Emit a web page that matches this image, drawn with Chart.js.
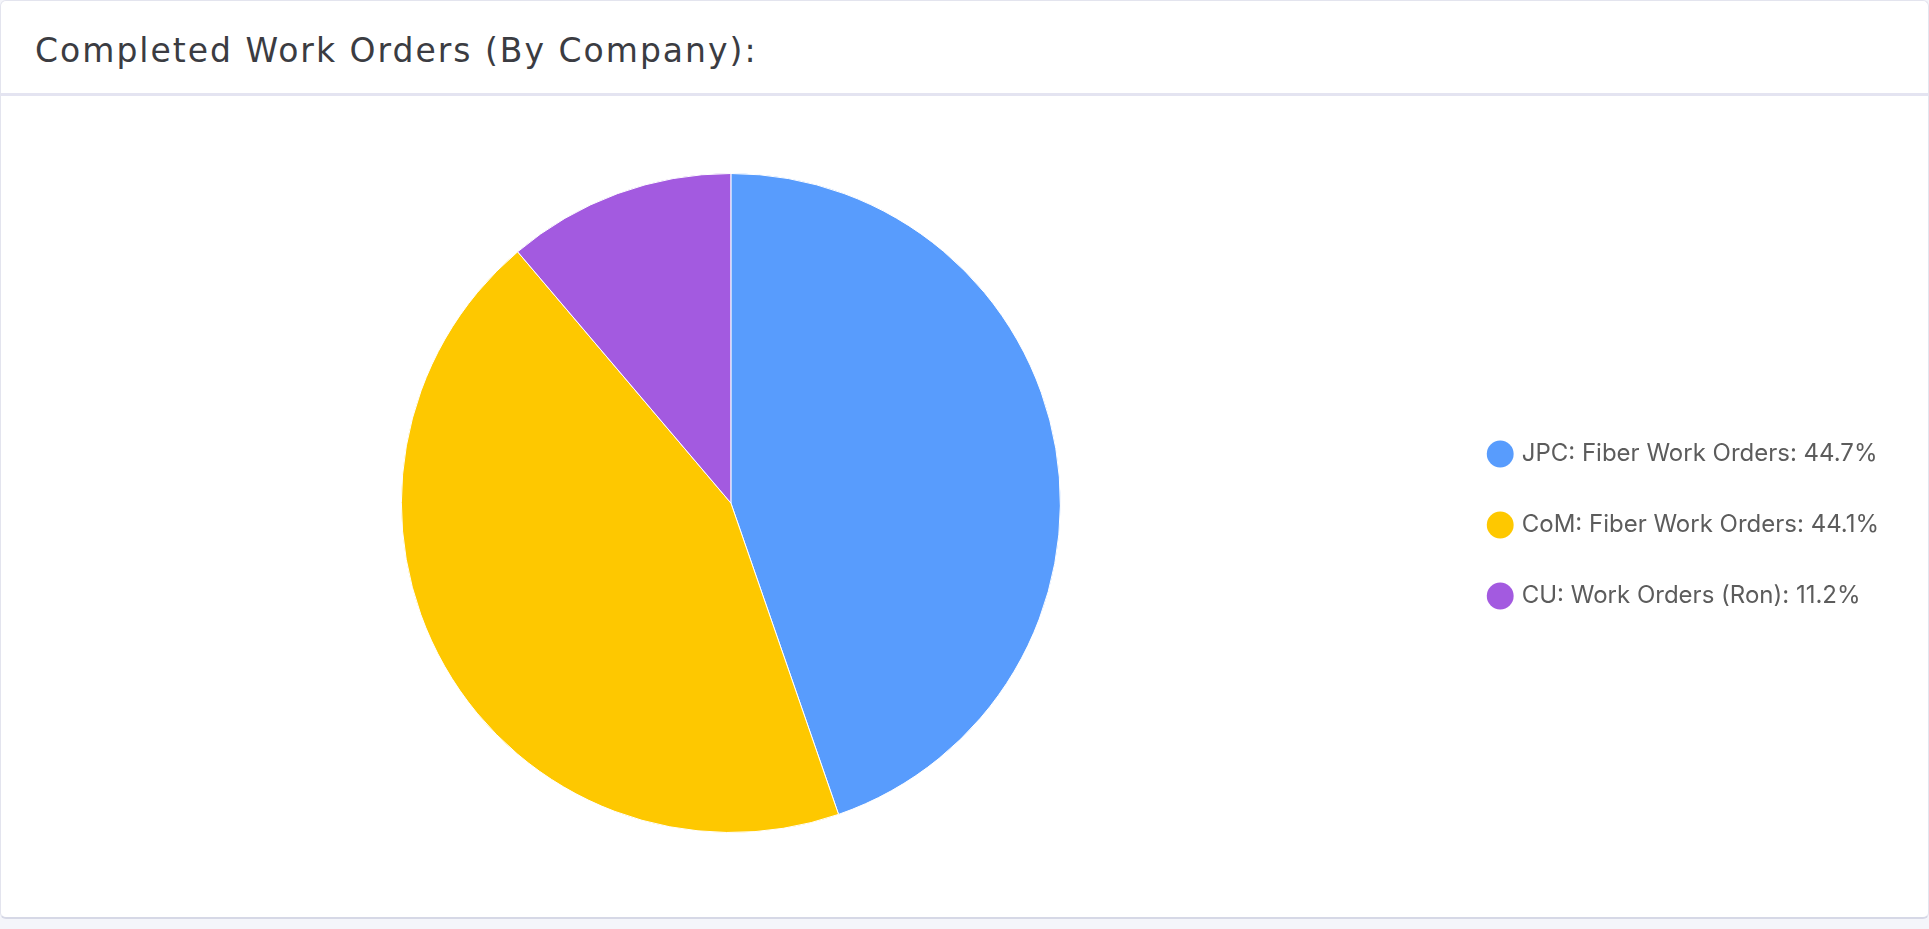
<!DOCTYPE html>
<html lang="en">
<head>
    <meta charset="UTF-8">
    <title>Completed Work Orders</title>
    <script src="https://cdnjs.cloudflare.com/ajax/libs/Chart.js/4.4.1/chart.umd.min.js"></script>
    <style>
        body {
            margin: 0;
            background-color: #f4f5fa;
            width: 1929px;
            height: 929px;
            overflow: hidden;
        }
        .card {
            position: absolute;
            left: 0;
            top: 0;
            width: 1927px;
            height: 916px;
            background: #fff;
            border: 1px solid #e3e4ee;
            border-bottom: 2px solid #d6d8e6;
            border-radius: 6px;
        }
        .card-header {
            height: 95px;
            border-bottom: 3px solid #e4e4f1;
            box-sizing: border-box;
        }
        .card-header h3 {
            margin: 0;
            padding-left: 34px;
            line-height: 100px;
            font-family: "DejaVu Sans", sans-serif;
            font-weight: 400;
            font-size: 33px;
            letter-spacing: 2px;
            color: #3b3c42;
        }
        .chart-box {
            position: absolute;
            left: 0;
            top: 98px;
            width: 1927px;
            height: 818px;
        }
    </style>
</head>
<body>
    <div class="card">
        <div class="card-header"><h3>Completed Work Orders (By Company):</h3></div>
        <div class="chart-box"><canvas id="ordersChart"></canvas></div>
    </div>

    <script>
        const companies = ['JPC: Fiber Work Orders', 'CoM: Fiber Work Orders', 'CU: Work Orders (Ron)'];
        const shares = [44.7, 44.1, 11.2];
        const colors = ['#589cfd', '#fec800', '#a35ae0'];

        let ctx = document.getElementById('ordersChart').getContext('2d');
        new Chart(ctx, {
            type: 'pie',
            data: {
                labels: companies,
                datasets: [{
                    data: shares,
                    backgroundColor: colors,
                    borderColor: '#ffffff',
                    borderWidth: 1
                }]
            },
            options: {
                responsive: true,
                maintainAspectRatio: false,
                animation: false,
                layout: {
                    padding: { top: 74, bottom: 84, left: 17, right: 39 }
                },
                plugins: {
                    tooltip: { enabled: false },
                    legend: {
                        position: 'right',
                        title: { display: true, text: '', padding: { top: 16, bottom: 16 }, font: { size: 10 } },
                        labels: {
                            usePointStyle: true,
                            pointStyle: 'circle',
                            boxWidth: 19,
                            boxHeight: 19,
                            padding: 47,
                            color: '#5c5c5c',
                            font: { family: 'Inter', size: 24 },
                            // label text carries the share
                            generateLabels: function(chart) {
                                return companies.map((name, i) => ({
                                    text: name + ': ' + shares[i] + '%',
                                    fillStyle: colors[i],
                                    strokeStyle: colors[i],
                                    lineWidth: 0,
                                    pointStyle: 'circle',
                                    fontColor: '#5c5c5c',
                                    index: i
                                }));
                            }
                        }
                    }
                }
            }
        });
    </script>
</body>
</html>
